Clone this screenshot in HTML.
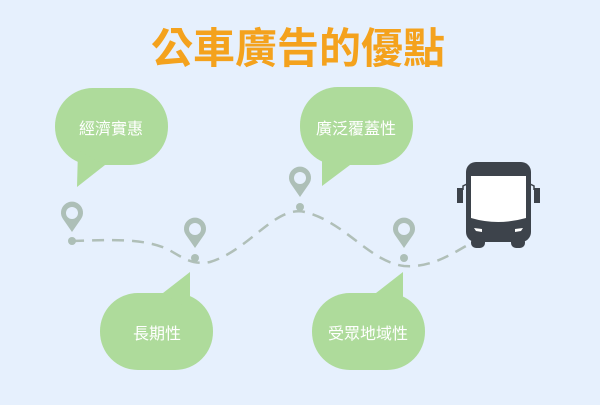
<!DOCTYPE html>
<html><head><meta charset="utf-8"><style>
body{margin:0;width:600px;height:400px;background:#e6f0fd;overflow:hidden;font-family:"Liberation Sans","Noto Sans CJK TC",sans-serif}
</style></head><body>
<svg width="600" height="400" viewBox="0 0 600 400" xmlns="http://www.w3.org/2000/svg">
<rect width="600" height="400" fill="#e6f0fd"/>
<text x="298" y="63" text-anchor="middle" font-size="42" font-weight="bold" fill="#f4a21d" font-family="Noto Sans CJK TC, sans-serif">公車廣告的優點</text>
<path d="M72,241 C110,240 140,238 165,248 C180,255 190,266 210,262 C250,250 275,205 305,212 C345,222 370,262 404,266 C430,268 450,255 466,246" fill="none" stroke="#b0bfb8" stroke-width="2.5" stroke-dasharray="12,8"/>
<g fill="#aedb9b">
<rect x="55" y="88" width="113" height="77" rx="38"/>
<polygon points="77,187 78,150 105,165"/>
<rect x="300" y="87" width="113" height="78" rx="38"/>
<polygon points="322,186 322,150 350,165"/>
<rect x="100" y="293" width="113" height="77" rx="38"/>
<polygon points="190,272 190,310 163,293"/>
<rect x="312" y="293" width="113" height="77" rx="38"/>
<polygon points="403,272 403,310 376,293"/>
</g>
<g fill="#fff" font-size="16" text-anchor="middle" font-family="Noto Sans CJK TC, sans-serif">
<text x="111" y="134">經濟實惠</text>
<text x="356" y="134">廣泛覆蓋性</text>
<text x="157" y="339">長期性</text>
<text x="368" y="339">受眾地域性</text>
</g>
<g fill="#adbfb7">
<g transform="translate(72,216)"><path d="M0,16 L-9,3 A11,11 0 1 1 9,3 Z"/><circle r="6" cy="-3" fill="#e6f0fd"/><circle cy="25" r="4"/></g>
<g transform="translate(195,232)"><path d="M0,16 L-9,3 A11,11 0 1 1 9,3 Z"/><circle r="6" cy="-3" fill="#e6f0fd"/><circle cy="26" r="4"/></g>
<g transform="translate(300,181)"><path d="M0,16 L-9,3 A11,11 0 1 1 9,3 Z"/><circle r="6" cy="-3" fill="#e6f0fd"/><circle cy="26" r="4"/></g>
<g transform="translate(404,232)"><path d="M0,16 L-9,3 A11,11 0 1 1 9,3 Z"/><circle r="6" cy="-3" fill="#e6f0fd"/><circle cy="26" r="4"/></g>
</g>
<g fill="#3d434b">
<rect x="466" y="162" width="65" height="80" rx="10"/>
<rect x="471" y="237" width="14" height="11" rx="5"/>
<rect x="511" y="237" width="14" height="11" rx="5"/>
<rect x="457" y="188" width="6" height="15"/>
<rect x="534" y="188" width="6" height="15"/>
<path d="M463,190 L463,186 L467,184" fill="none" stroke="#3d434b" stroke-width="1.5"/>
<path d="M534,190 L534,186 L530,184" fill="none" stroke="#3d434b" stroke-width="1.5"/>
</g>
<path d="M471,176 L526,176 L526,218 Q498,226 471,218 Z" fill="#fff"/>
<path d="M474,228 L482,229 L482,232 L476,231 Z M523,228 L515,229 L515,232 L521,231 Z" fill="#fff"/>
</svg>
</body></html>
